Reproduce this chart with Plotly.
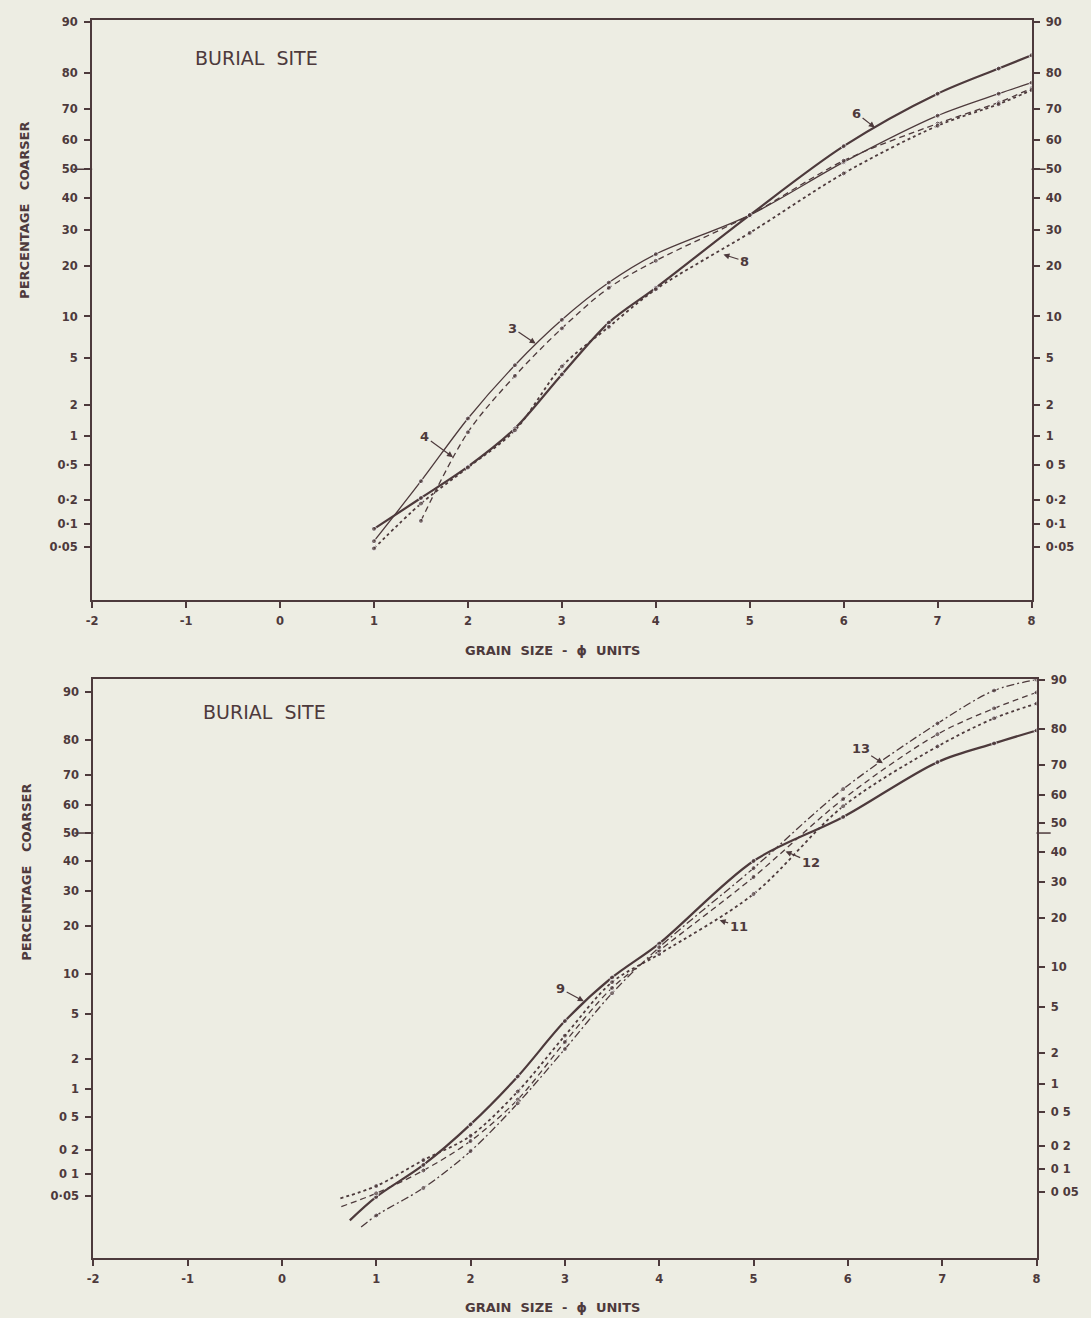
import plotly.graph_objects as go
from statistics import NormalDist

_nd = NormalDist()


def probit(pct):
    return _nd.inv_cdf(pct / 100.0)


# ---------------- data (phi units, percentage coarser) ----------------
TICK_PCT = [0.05, 0.1, 0.2, 0.5, 1, 2, 5, 10, 20, 30, 40, 50, 60, 70, 80, 90]
TICK_TXT_TL = ["0·05", "0·1", "0·2", "0·5", "1", "2", "5", "10", "20", "30", "40", "50", "60", "70", "80", "90"]
TICK_TXT_TR = ["0·05", "0·1", "0·2", "0 5", "1", "2", "5", "10", "20", "30", "40", "50", "60", "70", "80", "90"]
TICK_TXT_BL = ["0·05", "0 1", "0 2", "0 5", "1", "2", "5", "10", "20", "30", "40", "50", "60", "70", "80", "90"]
TICK_TXT_BR = ["0 05", "0 1", "0 2", "0 5", "1", "2", "5", "10", "20", "30", "40", "50", "60", "70", "80", "90"]
X_TICKS = [-2, -1, 0, 1, 2, 3, 4, 5, 6, 7, 8]

# top panel
PHI_3 = [1, 1.5, 2, 2.5, 3, 3.5, 4, 5, 6, 7, 7.65, 8]
PCT_3 = [0.06, 0.33, 1.5, 4.4, 9.5, 16.2, 23, 34.5, 52.5, 68, 74.5, 77.5]
PHI_4 = [1.5, 2, 2.5, 3, 3.5, 4, 5, 6, 7, 7.65, 8]
PCT_4 = [0.11, 1.1, 3.6, 8.3, 15.1, 21.3, 34.5, 53, 65.5, 72, 76]
PHI_6 = [1, 1.5, 2, 2.5, 3, 3.5, 4, 5, 6, 7, 7.65, 8]
PCT_6 = [0.087, 0.21, 0.48, 1.2, 3.7, 9.1, 15.1, 34.5, 58, 74.5, 81, 84]
PHI_8 = [1, 1.5, 2, 2.5, 3, 3.5, 4, 5, 6, 7, 7.65, 8]
PCT_8 = [0.048, 0.18, 0.47, 1.15, 4.3, 8.5, 14.8, 29, 48.6, 64.8, 71.5, 75.5]

# bottom panel
PHI_9 = [0.72, 1, 1.5, 2, 2.5, 3, 3.5, 4, 5, 5.95, 6.95, 7.55, 8]
PCT_9 = [0.022, 0.048, 0.13, 0.41, 1.36, 4.4, 9.5, 15.8, 40, 55.8, 74, 79.2, 82.4]
PHI_11 = [0.62, 1, 1.5, 2, 2.5, 3, 3.5, 4, 5, 5.95, 6.95, 7.55, 8]
PCT_11 = [0.046, 0.068, 0.15, 0.30, 0.95, 3.3, 8.8, 13.6, 29, 59.6, 78.4, 85.1, 88]
PHI_12 = [0.63, 1, 1.5, 2, 2.5, 3, 3.5, 4, 5, 5.95, 6.95, 7.55, 8]
PCT_12 = [0.035, 0.054, 0.11, 0.26, 0.78, 2.9, 8.0, 14.3, 34.5, 62.1, 81.5, 87.1, 89.9]
PHI_13 = [0.84, 1, 1.5, 2, 2.5, 3, 3.5, 4, 5, 5.95, 6.95, 7.55, 8]
PCT_13 = [0.0175, 0.026, 0.064, 0.195, 0.71, 2.5, 7.3, 15, 37.5, 65.5, 84, 90.2, 91.8]

# axis extents (percent at bottom / top of each frame)
RANGE_TOP = (0.0087, 90.35)
RANGE_BL = (0.0057, 91.9)
RANGE_BR = (0.0051, 90.15)

INK = "#4d3a3c"
BG = "#ededE3"
FONT = "DejaVu Sans"

fig = go.Figure()


def add_curve(phi, pct, xa, ya, width, dash, first_marker=True):
    sizes = [5] * len(phi)
    if not first_marker:
        sizes[0] = 0
    fig.add_trace(go.Scatter(
        x=phi, y=[probit(v) for v in pct], xaxis=xa, yaxis=ya,
        mode="lines+markers",
        line=dict(color=INK, width=width, dash=dash, shape="spline", smoothing=0.9),
        marker=dict(color=INK, size=sizes),
        showlegend=False, hoverinfo="skip"))


add_curve(PHI_3, PCT_3, "x", "y", 1.3, "solid")
add_curve(PHI_4, PCT_4, "x", "y", 1.3, "6px,4px")
add_curve(PHI_6, PCT_6, "x", "y", 2.2, "solid")
add_curve(PHI_8, PCT_8, "x", "y", 1.8, "dot")

add_curve(PHI_9, PCT_9, "x2", "y3", 2.2, "solid", False)
add_curve(PHI_11, PCT_11, "x2", "y3", 1.8, "dot", False)
add_curve(PHI_12, PCT_12, "x2", "y3", 1.3, "6px,4px", False)
add_curve(PHI_13, PCT_13, "x2", "y3", 1.3, "8px,3px,2px,3px", False)

# empty traces so the right-hand axes exist
fig.add_trace(go.Scatter(x=[None], y=[None], xaxis="x", yaxis="y2", showlegend=False))
fig.add_trace(go.Scatter(x=[None], y=[None], xaxis="x2", yaxis="y4", showlegend=False))

tickfont = dict(family=FONT, size=11.5, color=INK, weight="bold")
TV = [probit(v) for v in TICK_PCT]

common_y = dict(showline=True, linecolor=INK, linewidth=2, ticks="outside", ticklen=6,
                tickcolor=INK, tickwidth=1.5, showgrid=False, zeroline=False,
                tickmode="array", tickvals=TV, tickfont=tickfont, ticklabelstandoff=4)
common_x = dict(showline=True, linecolor=INK, linewidth=2, ticks="outside", ticklen=6,
                tickcolor=INK, tickwidth=1.5, showgrid=False, zeroline=False,
                tickmode="array", tickvals=X_TICKS, ticktext=[str(v) for v in X_TICKS],
                tickfont=tickfont, range=[-2, 8], mirror=True, ticklabelstandoff=3)

fig.update_layout(
    width=1091, height=1318,
    margin=dict(l=0, r=0, t=0, b=0),
    paper_bgcolor=BG, plot_bgcolor=BG,
    xaxis=dict(domain=[0.0797, 0.9487], anchor="y", **common_x),
    yaxis=dict(domain=[0.5470, 0.9894], anchor="x", side="left",
               range=[probit(RANGE_TOP[0]), probit(RANGE_TOP[1])],
               ticktext=TICK_TXT_TL, **common_y),
    yaxis2=dict(overlaying="y", anchor="x", side="right",
                range=[probit(RANGE_TOP[0]), probit(RANGE_TOP[1])],
                ticktext=TICK_TXT_TR, **common_y),
    xaxis2=dict(domain=[0.0807, 0.9533], anchor="y3", **common_x),
    yaxis3=dict(domain=[0.0455, 0.4871], anchor="x2", side="left",
                range=[probit(RANGE_BL[0]), probit(RANGE_BL[1])],
                ticktext=TICK_TXT_BL, **common_y),
    yaxis4=dict(overlaying="y3", anchor="x2", side="right",
                range=[probit(RANGE_BR[0]), probit(RANGE_BR[1])],
                ticktext=TICK_TXT_BR, **common_y),
)

# longer tick at 50 %
for ya, xa in (("y", "x"), ("y3", "x2")):
    fig.add_shape(type="line", xref=f"{xa} domain", yref=ya, x0=-0.02, x1=0, y0=0, y1=0,
                  line=dict(color=INK, width=1.5))
    fig.add_shape(type="line", xref=f"{xa} domain", yref=ya, x0=1, x1=1.015, y0=0, y1=0,
                  line=dict(color=INK, width=1.5))

title_font = dict(family=FONT, size=19, color=INK)
lab_font = dict(family=FONT, size=13, color=INK, weight="bold")
num_font = dict(family=FONT, size=13, color=INK, weight="bold")


def paper_text(text, px, py, font, angle=0):
    return dict(text=text, x=px / 1091, y=1 - py / 1318, xref="paper", yref="paper",
                xanchor="center", yanchor="middle", showarrow=False, textangle=angle, font=font)


anns = [
    paper_text("BURIAL  SITE", 253, 52, title_font),
    paper_text("BURIAL  SITE", 261, 709, title_font),
    paper_text("PERCENTAGE   COARSER", 18, 205, lab_font, -90),
    paper_text("PERCENTAGE   COARSER", 20, 870, lab_font, -90),
    paper_text("GRAIN  SIZE  -  ϕ  UNITS", 552, 647, lab_font),
    paper_text("GRAIN  SIZE  -  ϕ  UNITS", 552, 1307, lab_font),
]

# curve labels with arrows: (label, phi, pct, ax, ay, xref, yref)
CURVE_LABELS = [
    ("3", 2.73, 6.4, -24, -16, "x", "y"),
    ("4", 1.85, 0.6, -29, -21, "x", "y"),
    ("6", 6.34, 64, -19, -15, "x", "y"),
    ("8", 4.71, 23, 22, 7, "x", "y"),
    ("9", 3.21, 6.3, -24, -13, "x2", "y3"),
    ("11", 4.63, 21.5, 20, 6, "x2", "y3"),
    ("12", 5.33, 43.5, 26, 11, "x2", "y3"),
    ("13", 6.38, 73.5, -23, -15, "x2", "y3"),
]
for lab, px, pp, ax, ay, xr, yr in CURVE_LABELS:
    anns.append(dict(text=lab, x=px, y=probit(pp), xref=xr, yref=yr, ax=ax, ay=ay,
                     showarrow=True, arrowhead=2, arrowsize=1, arrowwidth=1.2,
                     arrowcolor=INK, standoff=1, font=num_font))

fig.update_layout(annotations=anns)

fig.write_html("out.html")
